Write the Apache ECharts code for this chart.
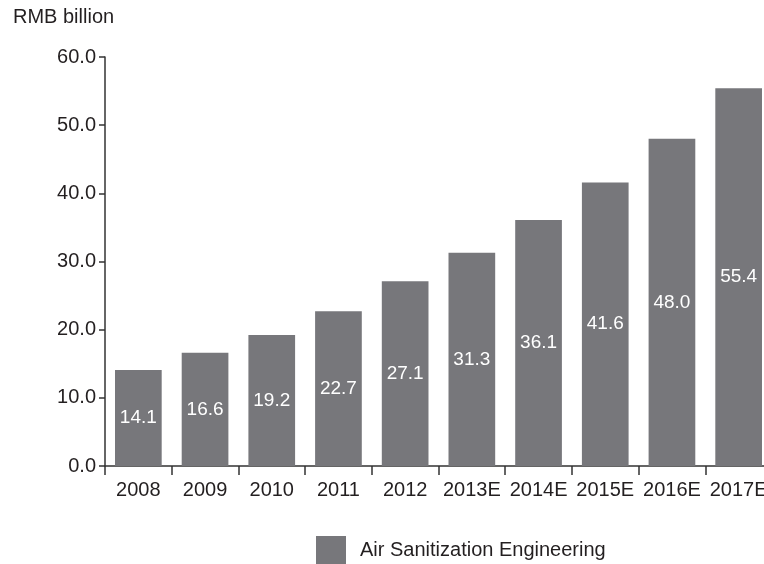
<!DOCTYPE html>
<html>
<head>
<meta charset="utf-8">
<script src="https://cdn.jsdelivr.net/npm/echarts@6/dist/echarts.min.js"></script>
<style>
  html, body { margin: 0; padding: 0; overflow: hidden; background: #fff; }
  /* the plot runs slightly past the right edge of the picture */
  #chart { width: 772px; height: 564px; }
</style>
</head>
<body>
<div id="chart"></div>
<script>
// data
var years = ['2008', '2009', '2010', '2011', '2012', '2013E', '2014E', '2015E', '2016E', '2017E'];
var marketSize = [14.1, 16.6, 19.2, 22.7, 27.1, 31.3, 36.1, 41.6, 48.0, 55.4];
var seriesName = 'Air Sanitization Engineering';
var unitLabel = 'RMB billion';

var textColor = '#231f20';
var barColor = '#77777b';
var fontFamily = 'Liberation Sans, Arial, Helvetica, sans-serif';

var chart = echarts.init(document.getElementById('chart'));
chart.setOption({
  animation: false,
  textStyle: { fontFamily: fontFamily },
  title: {
    text: unitLabel,
    left: 8,
    top: 2,
    textStyle: { fontSize: 20, fontWeight: 'normal', color: textColor, fontFamily: fontFamily }
  },
  legend: {
    data: [seriesName],
    left: 311,
    top: 531,
    itemWidth: 30,
    itemHeight: 28,
    icon: 'rect',
    textStyle: { fontSize: 20, color: textColor, padding: [0, 0, 0, 9] }
  },
  grid: {
    left: 105,
    right: 0,
    top: 57,
    bottom: 98
  },
  xAxis: {
    type: 'category',
    data: years,
    axisLine: { lineStyle: { color: '#333', width: 1.5 } },
    axisTick: { show: true, length: 9, lineStyle: { color: '#333', width: 1.5 } },
    axisLabel: { interval: 0, fontSize: 20, color: textColor, margin: 14 }
  },
  yAxis: {
    type: 'value',
    min: 0,
    max: 60,
    interval: 10,
    splitLine: { show: false },
    axisLine: { show: true, lineStyle: { color: '#333', width: 1.5 } },
    axisTick: { show: true, length: 6, lineStyle: { color: '#333', width: 1.5 } },
    axisLabel: {
      fontSize: 20,
      color: textColor,
      margin: 9,
      formatter: function (v) { return v.toFixed(1); }
    }
  },
  series: [{
    name: seriesName,
    type: 'bar',
    data: marketSize,
    barCategoryGap: '30%',
    itemStyle: { color: barColor },
    label: {
      show: true,
      position: 'inside',
      color: '#fff',
      fontSize: 19,
      formatter: function (p) { return p.value.toFixed(1); }
    }
  }]
});
</script>
</body>
</html>
